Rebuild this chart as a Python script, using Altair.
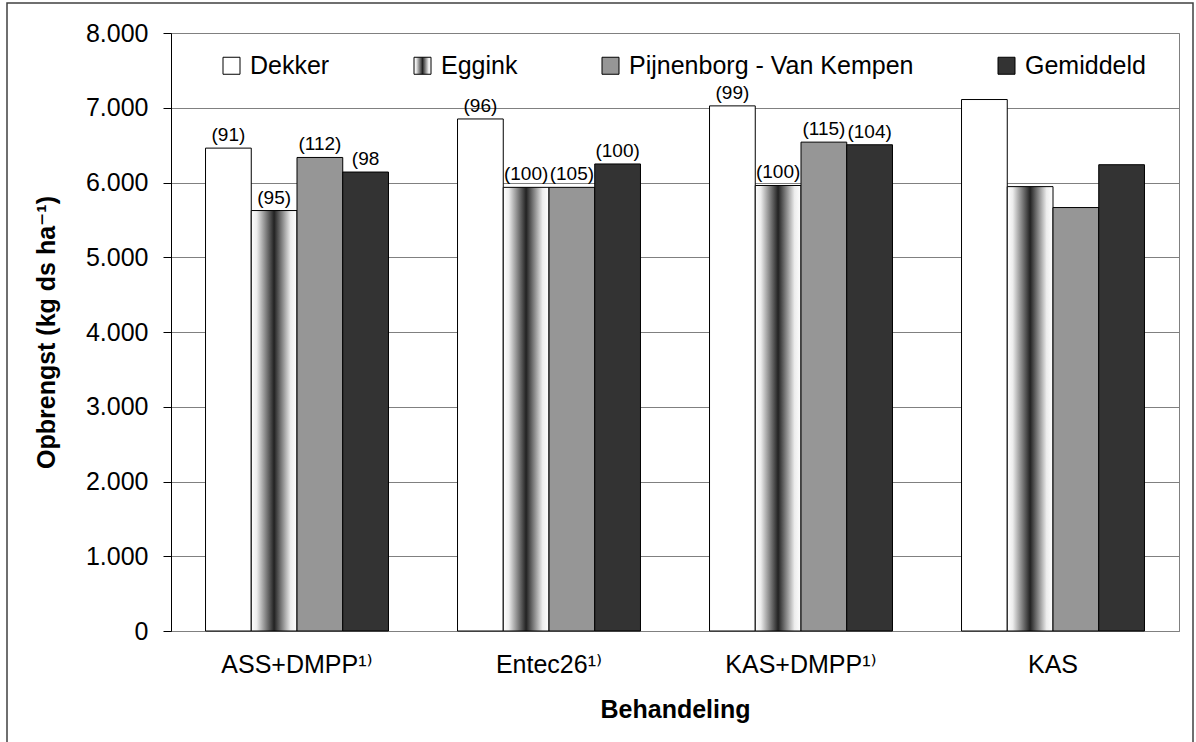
import altair as alt
import pandas as pd

# Treatments on the x axis and the farms drawn as grouped bars
treatments = ["ASS+DMPP¹⁾", "Entec26¹⁾", "KAS+DMPP¹⁾", "KAS"]
farms = ["Dekker", "Eggink", "Pijnenborg - Van Kempen", "Gemiddeld"]

# Yield (kg ds/ha) per farm, in the order of `treatments`
dekker = [6460, 6850, 7025, 7110]
eggink = [5625, 5935, 5960, 5945]
pijnenborg = [6335, 5935, 6540, 5665]
gemiddeld = [6140, 6248, 6505, 6238]

# Relative yield (KAS = 100) printed above the bars
dekker_idx = ["(91)", "(96)", "(99)", ""]
eggink_idx = ["(95)", "(100)", "(100)", ""]
pijnenborg_idx = ["(112)", "(105)", "(115)", ""]
gemiddeld_idx = ["(98", "(100)", "(104)", ""]

y_ticks = [0, 1000, 2000, 3000, 4000, 5000, 6000, 7000, 8000]

rows = []
for farm, vals, idx in zip(
    farms,
    [dekker, eggink, pijnenborg, gemiddeld],
    [dekker_idx, eggink_idx, pijnenborg_idx, gemiddeld_idx],
):
    for t, v, lab in zip(treatments, vals, idx):
        rows.append({"Behandeling": t, "Bedrijf": farm, "Opbrengst": v, "Index": lab})
df = pd.DataFrame(rows)

FONT = "Liberation Sans, Arial, DejaVu Sans, sans-serif"

# Eggink bars: horizontal white-black-white gradient
eggink_fill = (
    "{gradient: 'linear', x1: 0, y1: 0, x2: 1, y2: 0, stops: ["
    "{offset: 0, color: '#ffffff'}, {offset: 0.12, color: '#ededed'}, "
    "{offset: 0.5, color: '#222222'}, {offset: 0.86, color: '#ededed'}, "
    "{offset: 1, color: '#ffffff'}]}"
)
fills = ["#ffffff", {"expr": eggink_fill}, "#969696", "#333333"]

x_enc = alt.X(
    "Behandeling:N",
    sort=treatments,
    scale=alt.Scale(paddingInner=0.274, paddingOuter=0.137),
    axis=alt.Axis(
        title="Behandeling",
        labelAngle=0,
        ticks=False,
        domainColor="#808080",
        labelPadding=21,
        labelFontSize=25,
        labelColor="black",
        titleFontSize=25,
        titleFontWeight="bold",
        titleColor="black",
        titlePadding=20,
        labelFont=FONT,
        titleFont=FONT,
    ),
)
xoff_enc = alt.XOffset("Bedrijf:N", sort=farms, scale=alt.Scale(paddingInner=0, paddingOuter=0))
y_enc = alt.Y(
    "Opbrengst:Q",
    scale=alt.Scale(domain=[0, 8000], nice=False),
    axis=alt.Axis(
        title="Opbrengst (kg ds ha⁻¹)",
        values=y_ticks,
        labelExpr="replace(format(datum.value, ','), ',', '.')",
        tickSize=8,
        tickColor="black",
        domainColor="black",
        gridColor="#808080",
        gridWidth=1,
        labelFontSize=25,
        labelColor="black",
        labelPadding=15,
        titleFontSize=25,
        titleFontWeight="bold",
        titleColor="black",
        titlePadding=26,
        labelFont=FONT,
        titleFont=FONT,
    ),
)

base = alt.Chart(df).encode(x=x_enc, xOffset=xoff_enc, y=y_enc)

bars = base.mark_bar(stroke="black", strokeWidth=1).encode(
    fill=alt.Fill(
        "Bedrijf:N",
        sort=farms,
        scale=alt.Scale(domain=farms, range=fills),
        legend=alt.Legend(
            title=None,
            orient="none",
            legendX=48,
            legendY=20,
            direction="horizontal",
            columns=4,
            columnPadding=80,
            symbolType="square",
            symbolSize=289,
            symbolStrokeColor="black",
            symbolStrokeWidth=1,
            labelFontSize=25,
            labelOffset=6,
            labelLimit=500,
            labelFont=FONT,
            labelColor="black",
        ),
    )
)

labels = base.mark_text(baseline="bottom", dy=-3, fontSize=19, font=FONT, color="black").encode(
    text="Index:N"
)

# Outer frame around the whole figure
frame = (
    alt.Chart(pd.DataFrame({"f": [0]}))
    .mark_rect(filled=False, stroke="#404040", strokeWidth=1.5)
    .encode(x=alt.value(-164), x2=alt.value(1022), y=alt.value(-30), y2=alt.value(760))
)

chart = (
    alt.layer(frame, bars, labels)
    .properties(
        width=1008,
        height=598,
        autosize=alt.AutoSizeParams(type="none"),
        padding={"left": 171, "top": 33, "right": 17, "bottom": 111},
        background="white",
    )
    .configure_view(stroke="#808080", strokeWidth=1)
)

chart.save("out.html", embed_options={"renderer": "svg", "actions": False})
